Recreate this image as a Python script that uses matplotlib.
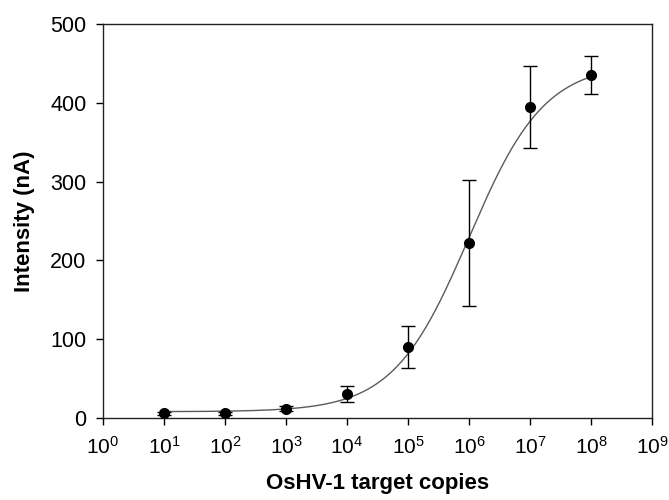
import numpy as np
import matplotlib
matplotlib.use("Agg")
import matplotlib.pyplot as plt
from matplotlib.ticker import FixedLocator, LogFormatterSciNotation, NullLocator

plt.rcParams['font.family'] = ['Liberation Sans', 'DejaVu Sans']
plt.rcParams['mathtext.fontset'] = 'custom'
plt.rcParams['mathtext.rm'] = 'Liberation Sans'
plt.rcParams['mathtext.it'] = 'Liberation Sans'

# Data
copies = [1e1, 1e2, 1e3, 1e4, 1e5, 1e6, 1e7, 1e8]
intensity = [6, 6, 12, 30, 90, 222, 395, 435]
errors = [2, 2, 3, 10, 27, 80, 52, 24]

# Sigmoidal (4PL) fit parameters
fit_bottom = 8
fit_top = 450
fit_logc = 6.0
fit_hill = 0.70

x_ticks = [10.0 ** k for k in range(0, 10)]
y_ticks = [0, 100, 200, 300, 400, 500]

fig = plt.figure(figsize=(6.69, 5.0), dpi=100)
ax = fig.add_axes([103 / 669, 0.164, 549 / 669, 0.788])

xf = np.logspace(np.log10(copies[0]), np.log10(copies[-1]), 400)
yf = fit_bottom + (fit_top - fit_bottom) / (1 + 10 ** ((fit_logc - np.log10(xf)) * fit_hill))
ax.plot(xf, yf, color='#5a5a5a', lw=1.0, zorder=2)

ax.errorbar(copies, intensity, yerr=errors, fmt='o', color='black', ms=7,
            ecolor='black', elinewidth=1.0, capsize=4.8, capthick=1.0, zorder=3)

ax.set_xscale('log')
ax.set_xlim(1, 1e9)
ax.set_ylim(0, 500)
ax.xaxis.set_major_locator(FixedLocator(x_ticks))
ax.xaxis.set_minor_locator(NullLocator())
ax.xaxis.set_major_formatter(LogFormatterSciNotation())
ax.set_yticks(y_ticks)

ax.tick_params(axis='both', direction='out', length=5, width=1, labelsize=15.5,
               top=False, right=False)
ax.tick_params(axis='y', pad=7)
ax.tick_params(axis='x', pad=8, labelsize=15)
for s in ax.spines.values():
    s.set_linewidth(1.0)
    s.set_color('#222222')

ax.set_xlabel('OsHV-1 target copies', fontsize=16, fontweight='bold', labelpad=11)
ax.set_ylabel('Intensity (nA)', fontsize=16, fontweight='bold', labelpad=11)

fig.savefig('out.png', dpi=100)
